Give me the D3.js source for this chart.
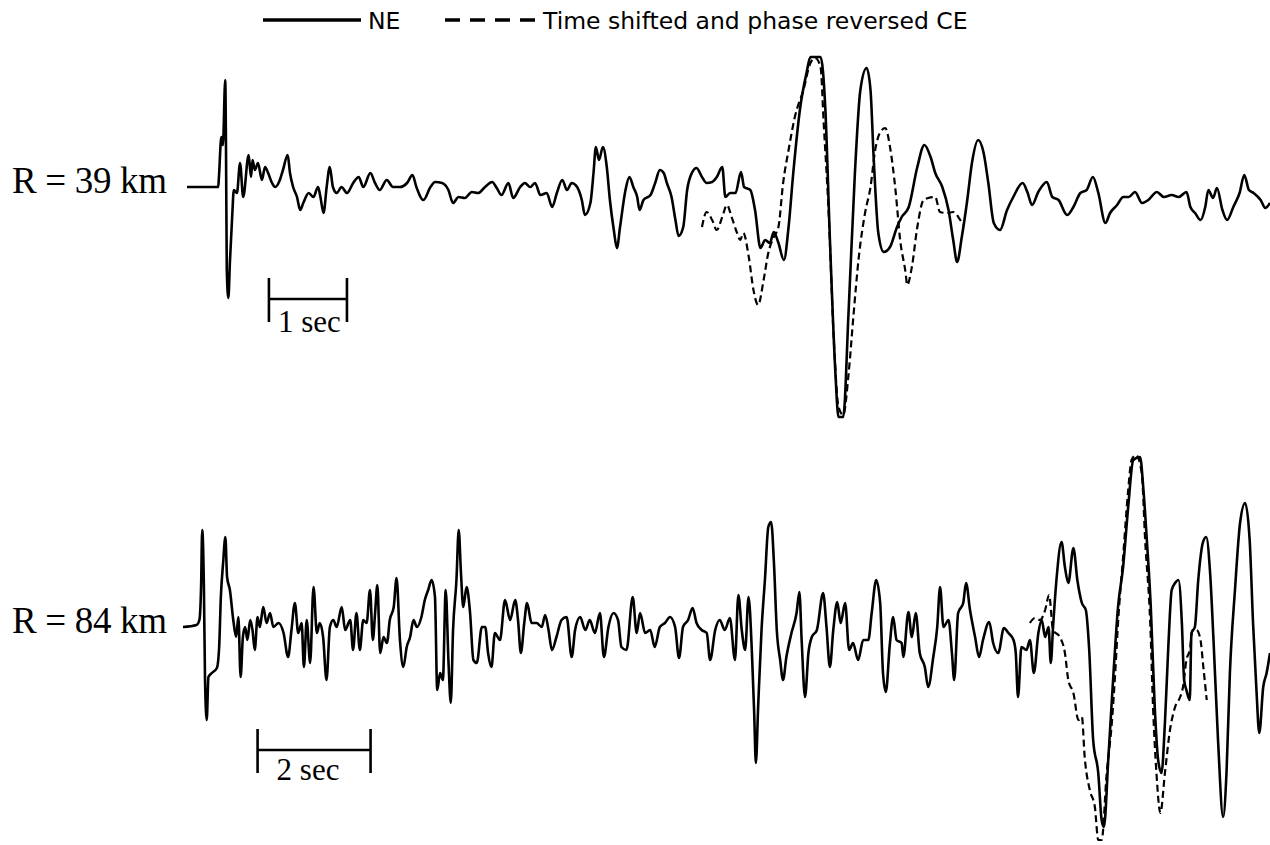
<!DOCTYPE html>
<html>
<head>
<meta charset="utf-8">
<script src="https://cdn.jsdelivr.net/npm/d3@7"></script>
<style>
  html, body { margin: 0; padding: 0; background: #fff; }
  svg { display: block; }
</style>
</head>
<body>
<svg id="chart" width="1270" height="845"></svg>
<script>
// Ground-motion records, [time (s), relative amplitude]; time counted from the start of each record.
const ne39 = [[0.00,0.00],[0.40,0.00],[0.41,0.11],[0.44,0.50],[0.46,0.42],[0.49,1.07],[0.50,0.37],[0.51,-0.83],[0.53,-1.11],[0.55,-0.75],[0.58,-0.28],[0.60,-0.03],
[0.64,-0.06],[0.68,0.24],[0.72,-0.10],[0.79,0.32],[0.82,0.10],[0.84,0.27],[0.87,0.17],[0.91,0.24],[0.96,0.07],[1.00,0.20],[1.04,0.14],[1.09,0.04],[1.13,0.00],[1.19,0.07],[1.23,0.17],[1.29,0.32],[1.32,0.14],[1.36,0.00],[1.41,-0.10],[1.45,-0.23],[1.49,-0.16],[1.56,-0.06],[1.62,-0.10],[1.68,0.00],[1.71,-0.10],[1.75,-0.26],[1.79,0.00],[1.83,0.20],[1.87,0.00],[1.92,-0.06],[1.98,0.00],[2.05,-0.06],[2.13,0.04],[2.20,0.10],[2.26,0.00],[2.35,0.14],[2.41,0.04],[2.47,-0.03],[2.56,0.07],[2.64,0.00],
[2.73,0.00],[2.82,0.04],[2.89,0.12],[2.94,0.00],[3.03,-0.13],[3.12,0.00],[3.18,0.05],[3.27,0.04],[3.35,-0.03],[3.41,-0.16],[3.48,-0.10],[3.56,-0.11],[3.65,-0.05],[3.73,-0.06],[3.82,0.00],[3.91,0.05],[3.97,-0.01],[4.03,-0.08],[4.12,0.04],[4.18,-0.11],[4.27,0.00],[4.33,0.04],[4.40,0.00],[4.46,0.04],[4.53,-0.08],[4.61,-0.06],[4.68,-0.20],[4.74,-0.06],[4.81,0.07],[4.87,-0.03],[4.93,0.04],[5.00,0.00],[5.06,-0.13],[5.10,-0.28],[5.17,-0.16],[5.21,0.14],[5.24,0.40],[5.28,0.27],[5.33,0.40],[5.38,0.20],[5.42,-0.13],[5.47,-0.43],[5.51,-0.61],[5.55,-0.40],[5.62,-0.03],[5.67,0.10],[5.72,0.00],[5.77,-0.10],[5.80,-0.23],[5.85,-0.13],[5.94,-0.08],[6.00,0.04],[6.06,0.17],[6.11,0.14],[6.15,0.04],[6.21,-0.10],[6.26,-0.33],[6.30,-0.49],[6.36,-0.40],[6.41,-0.03],[6.47,0.14],[6.53,0.19],[6.60,0.10],[6.66,0.04],[6.73,0.05],[6.79,0.10],[6.86,0.20],[6.90,-0.10],[6.96,-0.06],[7.03,-0.06],[7.10,0.15],[7.14,0.00],[7.22,-0.03],[7.28,-0.23],[7.35,-0.61],[7.41,-0.53],[7.47,-0.56],[7.52,-0.45],[7.58,-0.56],[7.65,-0.73],[7.71,-0.40],[7.77,0.14],[7.86,0.80],[7.94,1.14],[7.99,1.30],[8.12,1.30],[8.18,0.80],[8.24,-0.53],[8.31,-1.86],[8.35,-2.30],[8.41,-2.30],[8.48,-1.23],[8.56,0.14],[8.63,0.97],[8.71,1.19],[8.76,0.97],[8.80,0.30],[8.86,-0.46],[8.93,-0.65],[9.01,-0.60],[9.10,-0.40],[9.16,-0.30],[9.25,-0.20],[9.36,0.20],[9.45,0.42],[9.53,0.30],[9.59,0.14],[9.68,0.00],[9.76,-0.23],[9.82,-0.53],[9.87,-0.75],[9.93,-0.50],[10.00,-0.13],[10.06,0.24],[10.14,0.47],[10.21,0.34],[10.27,0.04],[10.34,-0.36],[10.42,-0.43],[10.51,-0.23],[10.59,-0.10],[10.71,0.04],[10.77,-0.05],[10.83,-0.18],[10.91,-0.05],[11.02,0.05],[11.09,-0.10],[11.17,-0.13],[11.28,-0.28],[11.36,-0.20],[11.45,-0.06],[11.53,-0.03],[11.61,0.10],[11.68,-0.06],[11.77,-0.36],[11.83,-0.26],[11.92,-0.18],[12.00,-0.10],[12.07,-0.10],[12.15,-0.05],[12.24,-0.16],[12.32,-0.13],[12.43,-0.05],[12.52,-0.10],[12.62,-0.08],[12.71,-0.10],[12.81,-0.05],[12.86,-0.20],[12.92,-0.26],[12.99,-0.33],[13.05,-0.20],[13.09,-0.03],[13.15,-0.11],[13.20,-0.01],[13.27,-0.23],[13.33,-0.33],[13.41,-0.20],[13.49,-0.06],[13.55,0.12],[13.61,-0.03],[13.67,-0.06],[13.76,-0.13],[13.82,-0.21],[13.88,-0.16]];

const ce39 = [[6.60,-0.40],[6.66,-0.25],[6.73,-0.33],[6.79,-0.43],[6.86,-0.30],[6.92,-0.18],[6.98,-0.30],[7.05,-0.46],[7.09,-0.53],[7.13,-0.46],[7.20,-0.70],[7.26,-1.03],[7.32,-1.18],[7.39,-0.93],[7.45,-0.66],[7.52,-0.50],[7.58,-0.40],[7.64,0.04],[7.71,0.37],[7.79,0.70],[7.90,0.97],[7.99,1.24],[8.05,1.29],[8.12,1.20],[8.16,0.64],[8.22,-0.20],[8.29,-1.53],[8.35,-2.20],[8.41,-2.28],[8.48,-1.86],[8.54,-1.30],[8.61,-0.70],[8.69,-0.26],[8.76,0.00],[8.82,0.37],[8.88,0.54],[8.95,0.59],[9.01,0.40],[9.08,-0.03],[9.14,-0.53],[9.21,-0.86],[9.23,-0.98],[9.29,-0.80],[9.36,-0.40],[9.44,-0.13],[9.50,-0.11],[9.59,-0.10],[9.65,-0.25],[9.74,-0.26],[9.82,-0.25],[9.91,-0.33],[9.95,-0.38]];

const ne84 = [[0.00,0.00],[0.24,0.02],[0.29,0.07],[0.32,0.40],[0.34,0.97],[0.37,0.40],[0.39,-0.53],[0.42,-0.93],[0.45,-0.50],[0.51,-0.46],[0.60,-0.41],[0.64,-0.20],[0.67,0.30],[0.71,0.64],[0.75,0.90],[0.78,0.50],[0.83,0.37],[0.89,0.07],[0.94,-0.10],[0.98,0.10],[1.02,-0.50],[1.06,-0.10],[1.10,0.00],[1.14,-0.13],[1.19,0.07],[1.23,-0.03],[1.27,-0.23],[1.32,0.10],[1.36,0.00],[1.42,0.20],[1.48,0.04],[1.54,0.14],[1.60,0.00],[1.69,0.04],[1.78,-0.06],[1.86,-0.30],[1.92,-0.03],[1.98,0.24],[2.04,-0.06],[2.10,0.04],[2.14,-0.40],[2.19,0.07],[2.25,-0.36],[2.31,0.40],[2.37,-0.06],[2.42,0.04],[2.48,-0.10],[2.54,-0.53],[2.60,0.00],[2.66,0.07],[2.72,0.00],[2.81,0.20],[2.87,-0.03],[2.96,0.07],[3.01,-0.23],[3.07,0.14],[3.13,-0.23],[3.19,0.07],[3.25,0.04],[3.31,0.37],[3.36,-0.13],[3.40,0.14],[3.44,0.42],[3.49,-0.26],[3.55,-0.10],[3.61,-0.16],[3.66,0.07],[3.73,0.20],[3.78,0.49],[3.84,-0.13],[3.90,-0.40],[3.96,-0.20],[4.02,-0.10],[4.08,0.07],[4.14,0.00],[4.22,0.10],[4.28,0.27],[4.34,0.37],[4.40,0.47],[4.46,0.30],[4.50,-0.63],[4.55,-0.46],[4.60,-0.53],[4.65,0.37],[4.70,-0.36],[4.74,-0.76],[4.78,-0.03],[4.84,0.47],[4.88,0.97],[4.92,0.54],[4.96,0.20],[5.02,0.40],[5.08,0.15],[5.14,-0.33],[5.20,-0.36],[5.29,0.00],[5.35,0.00],[5.40,-0.26],[5.46,-0.40],[5.52,-0.06],[5.61,-0.13],[5.70,0.27],[5.79,0.07],[5.88,0.27],[5.93,0.07],[5.98,-0.26],[6.04,0.04],[6.09,0.24],[6.17,0.04],[6.26,0.04],[6.35,0.00],[6.41,0.12],[6.47,-0.03],[6.53,-0.23],[6.61,-0.10],[6.70,0.07],[6.79,0.10],[6.88,-0.30],[6.94,-0.03],[7.03,0.10],[7.12,-0.03],[7.20,0.07],[7.29,-0.06],[7.38,0.14],[7.45,-0.30],[7.53,0.00],[7.62,0.14],[7.70,0.07],[7.76,-0.20],[7.85,-0.23],[7.96,0.30],[8.03,-0.06],[8.09,0.14],[8.18,-0.06],[8.27,-0.03],[8.35,-0.20],[8.44,0.00],[8.53,0.04],[8.62,0.10],[8.71,0.00],[8.78,-0.31],[8.85,0.00],[8.94,0.07],[9.02,0.19],[9.09,0.04],[9.18,-0.03],[9.27,-0.06],[9.33,-0.33],[9.42,-0.03],[9.50,0.07],[9.59,-0.03],[9.68,0.09],[9.77,-0.33],[9.83,0.32],[9.89,-0.03],[9.95,-0.23],[10.01,0.30],[10.07,-0.26],[10.11,-0.86],[10.14,-1.36],[10.18,-0.80],[10.24,-0.03],[10.30,0.47],[10.36,1.00],[10.41,1.05],[10.46,0.64],[10.51,-0.03],[10.57,-0.33],[10.62,-0.53],[10.68,-0.30],[10.77,-0.06],[10.86,0.14],[10.91,0.35],[10.95,-0.13],[11.01,-0.70],[11.07,-0.26],[11.13,-0.10],[11.22,-0.03],[11.33,0.34],[11.39,0.00],[11.45,-0.40],[11.51,-0.03],[11.58,0.25],[11.64,0.04],[11.72,0.24],[11.79,-0.23],[11.86,-0.16],[11.95,-0.33],[12.04,-0.13],[12.13,-0.13],[12.19,0.14],[12.27,0.47],[12.34,0.24],[12.39,-0.46],[12.44,-0.65],[12.51,-0.18],[12.57,0.10],[12.63,-0.13],[12.72,-0.16],[12.75,-0.30],[12.84,0.15],[12.90,-0.10],[12.97,0.14],[13.04,-0.26],[13.13,-0.40],[13.19,-0.60],[13.28,-0.30],[13.35,0.00],[13.40,0.40],[13.46,0.00],[13.55,0.07],[13.61,-0.26],[13.65,-0.53],[13.72,0.14],[13.81,0.24],[13.86,0.44],[13.93,0.17],[14.02,-0.10],[14.09,-0.30],[14.16,-0.13],[14.27,0.05],[14.34,-0.16],[14.43,-0.26],[14.53,-0.01],[14.61,-0.06],[14.70,-0.13],[14.74,-0.26],[14.78,-0.70],[14.84,-0.20],[14.93,-0.23],[14.99,-0.13],[15.06,-0.46],[15.14,-0.06],[15.20,0.07],[15.26,-0.10],[15.32,0.00],[15.36,-0.36],[15.40,0.00],[15.46,0.47],[15.55,0.85],[15.61,0.60],[15.67,0.44],[15.76,0.79],[15.83,0.47],[15.91,0.24],[15.98,0.17],[16.04,-0.23],[16.11,-1.13],[16.20,-1.46],[16.26,-1.93],[16.30,-2.00],[16.38,-1.30],[16.47,-0.46],[16.55,0.20],[16.64,0.60],[16.73,1.20],[16.82,1.67],[16.94,1.70],[17.00,1.37],[17.06,0.87],[17.13,0.20],[17.20,-0.80],[17.26,-1.33],[17.32,-1.46],[17.38,-0.96],[17.44,-0.20],[17.50,0.37],[17.56,0.44],[17.62,0.47],[17.68,0.04],[17.72,-0.53],[17.76,-0.63],[17.82,-0.73],[17.85,-0.06],[17.91,0.00],[17.97,0.47],[18.05,0.84],[18.11,0.90],[18.18,0.54],[18.24,-0.13],[18.32,-1.13],[18.41,-1.90],[18.47,-1.46],[18.53,-0.46],[18.62,0.37],[18.71,1.04],[18.80,1.24],[18.88,0.87],[18.94,0.04],[19.00,-0.63],[19.05,-1.06],[19.12,-0.60],[19.18,-0.46],[19.24,-0.26]];

const ce84 = [[14.99,0.04],[15.08,0.09],[15.17,0.07],[15.26,0.17],[15.33,0.32],[15.40,-0.03],[15.52,-0.10],[15.61,-0.26],[15.67,-0.53],[15.76,-0.66],[15.85,-0.93],[15.91,-0.90],[15.96,-1.30],[16.05,-1.63],[16.14,-1.80],[16.20,-2.13],[16.26,-2.13],[16.35,-1.46],[16.44,-0.96],[16.50,-0.46],[16.55,0.04],[16.64,0.70],[16.73,1.37],[16.79,1.67],[16.87,1.72],[16.97,1.54],[17.03,0.87],[17.12,0.04],[17.17,-0.80],[17.23,-1.46],[17.30,-1.86],[17.38,-1.46],[17.47,-1.03],[17.56,-0.80],[17.65,-0.70],[17.70,-0.60],[17.76,-0.33],[17.82,-0.23],[17.87,-0.03],[17.94,-0.03],[18.01,-0.13],[18.06,-0.40],[18.12,-0.73]];

// Labels and time-scale bars
const traceLabels = ["R = 39 km", "R = 84 km"];
const durations = [13.88, 19.24];        // record length shown (s)
const barSeconds = [1, 2];               // scale-bar length (s)
const barStartTimes = [1.05, 1.32];      // where each bar begins (s)
const barLabels = ["1 sec", "2 sec"];
const legendLabels = ["NE", "Time shifted and phase reversed CE"];

// ---- layout ----
const W = 1270, H = 845;
const panels = [
  { ne: ne39, ce: ce39, x0: 187, base: 187, barDy: 112, textDx: 9,  textDy: 33 },
  { ne: ne84, ce: ce84, x0: 183, base: 627, barDy: 123, textDx: 19, textDy: 30 }
];
const pxPerUnit = 100;
const serif = "'Liberation Serif', 'Times New Roman', serif";

const svg = d3.select("#chart");
svg.append("rect").attr("width", W).attr("height", H).attr("fill", "#fff");

panels.forEach((p, i) => {
  const x = d3.scaleLinear().domain([0, durations[i]]).range([p.x0, W]);
  const y = d3.scaleLinear().domain([-1, 1]).range([p.base + pxPerUnit, p.base - pxPerUnit]);
  const line = d3.line()
    .x(d => x(d[0]))
    .y(d => y(d[1]))
    .curve(d3.curveMonotoneX);

  const g = svg.append("g").attr("class", "trace");

  // phase reversed CE record (dashed)
  g.append("path")
    .datum(p.ce)
    .attr("d", line)
    .attr("fill", "none")
    .attr("stroke", "#000")
    .attr("stroke-width", 2.2)
    .attr("stroke-dasharray", "7,4")
    .attr("stroke-linejoin", "round");

  // NE record (solid)
  g.append("path")
    .datum(p.ne)
    .attr("d", line)
    .attr("fill", "none")
    .attr("stroke", "#000")
    .attr("stroke-width", 2.6)
    .attr("stroke-linejoin", "round");

  // distance label
  g.append("text")
    .attr("x", 12)
    .attr("y", y(0) + 6)
    .attr("font-family", serif)
    .attr("font-size", 37)
    .attr("textLength", 155)
    .attr("fill", "#000")
    .text(traceLabels[i]);

  // time scale bar
  const bx0 = x(barStartTimes[i]);
  const bx1 = x(barStartTimes[i] + barSeconds[i]);
  const by = y(0) + p.barDy;
  const bar = g.append("g").attr("stroke", "#000").attr("stroke-width", 2.6);
  bar.append("line").attr("x1", bx0).attr("x2", bx1).attr("y1", by).attr("y2", by);
  bar.append("line").attr("x1", bx0).attr("x2", bx0).attr("y1", by - 21).attr("y2", by + 23);
  bar.append("line").attr("x1", bx1).attr("x2", bx1).attr("y1", by - 21).attr("y2", by + 23);
  g.append("text")
    .attr("x", bx0 + p.textDx)
    .attr("y", by + p.textDy)
    .attr("font-family", serif)
    .attr("font-size", 31)
    .attr("fill", "#000")
    .text(barLabels[i]);
});

// ---- legend ----
const legend = svg.append("g").attr("class", "legend");
const legendY = 20;
legend.append("line")
  .attr("x1", 263).attr("x2", 361).attr("y1", legendY).attr("y2", legendY)
  .attr("stroke", "#000").attr("stroke-width", 3.5);
legend.append("text")
  .attr("x", 368).attr("y", legendY + 9)
  .attr("font-family", "'DejaVu Sans', Verdana, sans-serif")
  .attr("font-size", 23.5)
  .text(legendLabels[0]);
legend.append("line")
  .attr("x1", 445).attr("x2", 538).attr("y1", legendY).attr("y2", legendY)
  .attr("stroke", "#000").attr("stroke-width", 3.5)
  .attr("stroke-dasharray", "15,10");
legend.append("text")
  .attr("x", 543).attr("y", legendY + 9)
  .attr("font-family", "'DejaVu Sans', Verdana, sans-serif")
  .attr("font-size", 23.5)
  .text(legendLabels[1]);
</script>
</body>
</html>
